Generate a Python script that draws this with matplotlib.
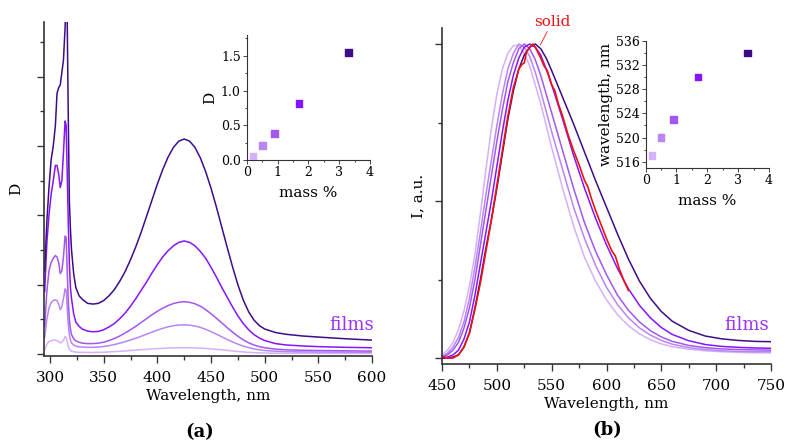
import matplotlib.pyplot as plt
from matplotlib.ticker import MultipleLocator, NullFormatter

plt.rcParams['font.family'] = ['DejaVu Serif']

# ---- panel (a): absorption spectra of films ----
wl_a = [295, 297, 299, 301, 303, 305, 306.5, 308, 309.5, 311, 312.5, 314, 315, 316, 317,
        318, 319, 320, 322, 324, 327,
        330, 335, 340, 345, 350, 355, 360, 365, 370, 375, 380, 385, 390, 395, 400, 405, 410,
        415, 420, 425, 430, 435, 440, 445, 450, 455, 460, 465, 470, 475, 480, 485, 490, 495, 500,
        510, 520, 535, 550, 575, 600]

d_33 = [0.6, 0.95, 1.2, 1.4, 1.5, 1.65, 1.88, 1.92, 1.94, 2.03, 2.12, 2.35, 2.6, 2.4, 1.7,
        1.1, 0.9, 0.75, 0.58, 0.48, 0.42,
        0.395, 0.365, 0.36, 0.365, 0.385, 0.42, 0.465, 0.525, 0.595, 0.68, 0.775, 0.88, 0.995, 1.11,
        1.225, 1.33, 1.42, 1.49, 1.535, 1.55, 1.535, 1.49, 1.415, 1.315, 1.195, 1.06, 0.915, 0.77,
        0.63, 0.5, 0.39, 0.305, 0.245, 0.205, 0.18,
        0.155, 0.142, 0.13, 0.122, 0.11, 0.1]
d_17 = [0.45, 0.8, 1.0, 1.15, 1.25, 1.36, 1.36, 1.3, 1.2, 1.25, 1.45, 1.68, 1.65, 1.3, 0.95,
        0.65, 0.48, 0.4, 0.29, 0.23, 0.2,
        0.18, 0.165, 0.16, 0.163, 0.175, 0.195, 0.22, 0.255, 0.295, 0.345, 0.4, 0.46, 0.52, 0.585,
        0.645, 0.7, 0.745, 0.78, 0.805, 0.815, 0.805, 0.78, 0.74, 0.69, 0.625, 0.555, 0.48, 0.41,
        0.34, 0.275, 0.22, 0.175, 0.14, 0.115, 0.097,
        0.075, 0.065, 0.058, 0.053, 0.048, 0.045]
d_09 = [0.2, 0.45, 0.6, 0.66, 0.69, 0.71, 0.7, 0.66, 0.58, 0.6, 0.7, 0.85, 0.84, 0.6, 0.38,
        0.25, 0.18, 0.14, 0.11, 0.095, 0.085,
        0.078, 0.075, 0.075, 0.078, 0.085, 0.097, 0.112, 0.13, 0.152, 0.175, 0.2, 0.228, 0.255, 0.283,
        0.308, 0.33, 0.349, 0.364, 0.373, 0.377, 0.373, 0.362, 0.345, 0.32, 0.29, 0.258, 0.224, 0.19,
        0.158, 0.128, 0.102, 0.081, 0.065, 0.053, 0.045,
        0.035, 0.03, 0.027, 0.025, 0.023, 0.021]
d_05 = [0.12, 0.25, 0.33, 0.37, 0.385, 0.39, 0.385, 0.36, 0.32, 0.34, 0.4, 0.47, 0.46, 0.33, 0.21,
        0.14, 0.1, 0.08, 0.065, 0.057, 0.052,
        0.05, 0.048, 0.048, 0.05, 0.054, 0.06, 0.068, 0.078, 0.089, 0.101, 0.114, 0.128, 0.143, 0.158,
        0.172, 0.185, 0.196, 0.204, 0.209, 0.21, 0.208, 0.202, 0.192, 0.178, 0.161, 0.143, 0.124, 0.105,
        0.087, 0.071, 0.057, 0.046, 0.037, 0.03, 0.025,
        0.02, 0.017, 0.015, 0.014, 0.013, 0.012]
d_02 = [0.03, 0.07, 0.09, 0.095, 0.1, 0.1, 0.095, 0.09, 0.08, 0.085, 0.1, 0.125, 0.12, 0.085, 0.055,
        0.035, 0.025, 0.02, 0.016, 0.014, 0.012,
        0.012, 0.011, 0.011, 0.012, 0.013, 0.015, 0.017, 0.019, 0.022, 0.025, 0.028, 0.031, 0.034, 0.037,
        0.039, 0.041, 0.043, 0.044, 0.045, 0.045, 0.045, 0.044, 0.042, 0.04, 0.037, 0.034, 0.03, 0.026,
        0.022, 0.018, 0.015, 0.012, 0.01, 0.008, 0.007,
        0.006, 0.005, 0.005, 0.005, 0.004, 0.004]

# ---- panel (b): normalised emission spectra ----
wl_b = [450, 455, 460, 465, 470, 475, 480, 485, 490, 495, 500, 505, 510, 515, 520, 525, 530,
        535, 540, 545, 550, 560, 570, 580, 590, 600, 610, 620, 630, 640, 650, 660, 675, 690,
        705, 720, 735, 750]

i_534 = [0.0, 0.0, 0.003, 0.01, 0.035, 0.08, 0.16, 0.25, 0.35, 0.44, 0.54, 0.65, 0.76, 0.85, 0.92,
         0.965, 0.99, 1.0, 0.985, 0.955, 0.915, 0.83, 0.745, 0.655, 0.565, 0.48, 0.395, 0.315, 0.245,
         0.19, 0.148, 0.117, 0.088, 0.07, 0.061, 0.056, 0.053, 0.052]
i_530 = [0.0, 0.003, 0.01, 0.025, 0.06, 0.115, 0.2, 0.3, 0.4, 0.5, 0.61, 0.72, 0.82, 0.9, 0.955,
         0.99, 1.0, 0.99, 0.965, 0.92, 0.87, 0.76, 0.645, 0.54, 0.445, 0.36, 0.285, 0.22, 0.168,
         0.128, 0.097, 0.075, 0.055, 0.043, 0.037, 0.034, 0.032, 0.031]
i_523 = [0.003, 0.01, 0.025, 0.05, 0.095, 0.16, 0.25, 0.36, 0.47, 0.58, 0.69, 0.79, 0.88, 0.94, 0.985,
         1.0, 0.985, 0.95, 0.9, 0.84, 0.78, 0.66, 0.54, 0.43, 0.34, 0.265, 0.2, 0.152, 0.115,
         0.087, 0.067, 0.053, 0.04, 0.033, 0.029, 0.027, 0.026, 0.025]
i_520 = [0.006, 0.015, 0.035, 0.065, 0.115, 0.19, 0.29, 0.4, 0.52, 0.63, 0.74, 0.84, 0.92, 0.97, 1.0,
         0.99, 0.96, 0.91, 0.85, 0.785, 0.72, 0.6, 0.48, 0.38, 0.295, 0.225, 0.17, 0.128, 0.096,
         0.073, 0.056, 0.044, 0.033, 0.027, 0.023, 0.021, 0.02, 0.02]
i_517 = [0.01, 0.025, 0.05, 0.09, 0.15, 0.23, 0.33, 0.46, 0.6, 0.73, 0.84, 0.92, 0.97, 0.995, 0.995,
         0.97, 0.93, 0.87, 0.81, 0.74, 0.67, 0.54, 0.42, 0.32, 0.245, 0.185, 0.138, 0.103, 0.077,
         0.058, 0.045, 0.036, 0.028, 0.023, 0.02, 0.018, 0.017, 0.016]

# solid sample: noisy trace, ends at 620 nm
wl_solid = [450, 455, 460, 465, 470, 475, 480, 485, 490, 495, 500, 505, 510, 515, 520, 523, 525,
            527, 530, 533, 535, 540, 543, 546, 550, 553, 556, 560, 565, 570, 575, 580, 583, 586,
            590, 595, 600, 605, 608, 612, 616, 620]
i_solid = [0.005, 0.0, 0.0, 0.01, 0.035, 0.08, 0.155, 0.24, 0.34, 0.44, 0.55, 0.66, 0.77, 0.86, 0.92,
           0.935, 0.94, 0.975, 0.99, 1.0, 0.99, 0.955, 0.93, 0.915, 0.87, 0.85, 0.81, 0.77, 0.71,
           0.66, 0.615, 0.565, 0.545, 0.51, 0.47, 0.425, 0.38, 0.34, 0.325, 0.28, 0.245, 0.215]

# ---- inset data ----
mass = [0.2, 0.5, 0.9, 1.7, 3.3]
d_peak = [0.05, 0.21, 0.38, 0.81, 1.55]
wl_peak = [517, 520, 523, 530, 534]

colors = ['#d6b0fb', '#b985f5', '#a257f0', '#8614ff', '#3f0c87']
abs_curves = [d_02, d_05, d_09, d_17, d_33]
em_curves = [i_517, i_520, i_523, i_530, i_534]

fig = plt.figure(figsize=(7.85, 4.42), dpi=100)
ax_a = fig.add_axes([0.0561, 0.1946, 0.4178, 0.7557])
ax_b = fig.add_axes([0.5631, 0.1765, 0.4191, 0.7602])
in_a = fig.add_axes([0.3146, 0.638, 0.1567, 0.2828])
in_b = fig.add_axes([0.8225, 0.6206, 0.1571, 0.2867])

axis_col = '#333333'


def style(ax, lw=1.2):
    for s in ['top', 'right']:
        ax.spines[s].set_visible(False)
    for s in ['left', 'bottom']:
        ax.spines[s].set_color(axis_col)
        ax.spines[s].set_linewidth(lw)
    ax.tick_params(which='both', direction='out', color=axis_col, width=lw * 0.8)
    ax.patch.set_alpha(0)


for y, c in zip(abs_curves, colors):
    ax_a.plot(wl_a, y, color=c, lw=1.1)
ax_a.set_xlim(294.4, 600)
ax_a.set_ylim(-0.0144, 2.394)
ax_a.xaxis.set_major_locator(MultipleLocator(50))
ax_a.xaxis.set_minor_locator(MultipleLocator(25))
ax_a.yaxis.set_major_locator(MultipleLocator(0.5))
ax_a.yaxis.set_minor_locator(MultipleLocator(0.25))
ax_a.yaxis.set_major_formatter(NullFormatter())
style(ax_a)
ax_a.tick_params(which='major', length=5, labelsize=11, pad=6)
ax_a.tick_params(which='minor', length=3)
ax_a.set_xlabel('Wavelength, nm', fontsize=11, labelpad=3)
ax_a.set_ylabel('D', fontsize=11, labelpad=4)
ax_a.text(581, 0.21, 'films', color='#9933ff', fontsize=13, ha='center', va='center')

for y, c in zip(em_curves, colors):
    ax_b.plot(wl_b, y, color=c, lw=1.1)
ax_b.plot(wl_solid, i_solid, color='#f01010', lw=1.2)
ax_b.set_xlim(450, 750)
ax_b.set_ylim(-0.019, 1.051)
ax_b.xaxis.set_major_locator(MultipleLocator(50))
ax_b.xaxis.set_minor_locator(MultipleLocator(25))
ax_b.yaxis.set_major_locator(MultipleLocator(0.5))
ax_b.yaxis.set_minor_locator(MultipleLocator(0.25))
ax_b.yaxis.set_major_formatter(NullFormatter())
style(ax_b)
ax_b.tick_params(which='major', length=5, labelsize=11, pad=6)
ax_b.tick_params(which='minor', length=3)
ax_b.set_xlabel('Wavelength, nm', fontsize=11, labelpad=3)
ax_b.set_ylabel('I, a.u.', fontsize=11, labelpad=1)
ax_b.text(728, 0.105, 'films', color='#9933ff', fontsize=13, ha='center', va='center')
ax_b.annotate('solid', xy=(539.6, 0.997), xytext=(550.5, 1.071), color='#f01010', fontsize=11,
              ha='center', va='center', annotation_clip=False,
              arrowprops=dict(arrowstyle='-', color='#f01010', lw=0.6, shrinkA=0, shrinkB=0))

in_a.scatter(mass, d_peak, marker='s', s=22, c=colors, zorder=3)
in_a.set_xlim(0, 4)
in_a.set_ylim(0, 1.8)
in_a.xaxis.set_major_locator(MultipleLocator(1))
in_a.xaxis.set_minor_locator(MultipleLocator(0.5))
in_a.yaxis.set_major_locator(MultipleLocator(0.5))
in_a.yaxis.set_minor_locator(MultipleLocator(0.25))
style(in_a, lw=0.8)
in_a.tick_params(which='major', length=3, labelsize=9, pad=1.5)
in_a.tick_params(which='minor', length=1.5)
in_a.set_xlabel('mass %', fontsize=11, labelpad=5)
in_a.set_ylabel('D', fontsize=11, labelpad=3)

in_b.scatter(mass, wl_peak, marker='s', s=22, c=colors, zorder=3)
in_b.set_xlim(0, 4)
in_b.set_ylim(515, 536)
in_b.xaxis.set_major_locator(MultipleLocator(1))
in_b.xaxis.set_minor_locator(MultipleLocator(0.5))
in_b.yaxis.set_minor_locator(MultipleLocator(2))
in_b.set_yticks([516, 520, 524, 528, 532, 536])
style(in_b, lw=0.8)
in_b.tick_params(which='major', length=3, labelsize=9, pad=1.5)
in_b.tick_params(which='minor', length=1.5)
in_b.set_xlabel('mass %', fontsize=11, labelpad=5)
in_b.set_ylabel('wavelength, nm', fontsize=11, labelpad=2)

fig.text(200 / 785, 1 - 432 / 442, '(a)', fontsize=13, fontweight='bold', ha='center', va='center')
fig.text(607 / 785, 1 - 430 / 442, '(b)', fontsize=13, fontweight='bold', ha='center', va='center')

fig.savefig('out.png', dpi=100)
